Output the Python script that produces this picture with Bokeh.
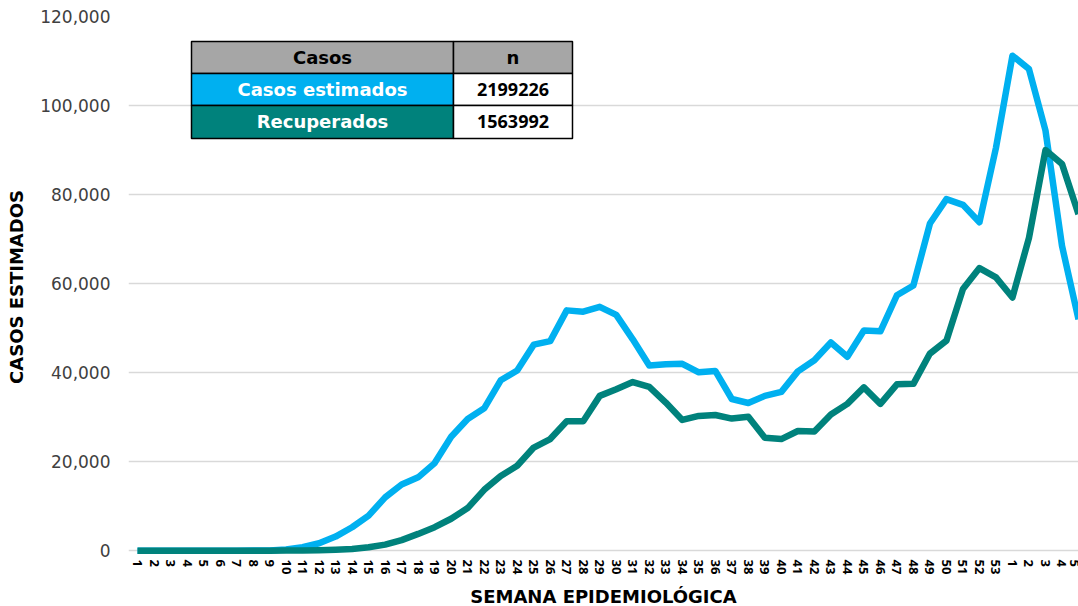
from bokeh.plotting import figure
from bokeh.models import FixedTicker, NumeralTickFormatter, Range1d
from bokeh.core.properties import value
from bokeh.embed import file_html
from bokeh.resources import INLINE

# ---- data ----
weeks = [str(i) for i in range(1, 54)] + ["1", "2", "3", "4", "5"]

casos_estimados = [0, 0, 0, 0, 0, 0, 0, 50, 100, 300,
                   800, 1700, 3200, 5300, 7900, 12000, 14900, 16500, 19700, 25600,
                   29600, 32000, 38300, 40500, 46300, 47100, 54000, 53700, 54800, 53000,
                   47500, 41600, 41900, 42000, 40100, 40400, 34100, 33200, 34800, 35700,
                   40300, 42800, 46800, 43600, 49500, 49300, 57400, 59600, 73500, 79000,
                   77700, 73800, 90500, 111200, 108200, 94400, 68500, 52000]

recuperados = [0, 0, 0, 0, 0, 0, 0, 0, 0, 50,
               100, 150, 250, 400, 800, 1400, 2400, 3800, 5300, 7200,
               9600, 13700, 16800, 19100, 23200, 25100, 29100, 29100, 34800, 36300,
               37900, 36800, 33300, 29400, 30300, 30500, 29700, 30100, 25400, 25100,
               26900, 26800, 30600, 33000, 36700, 33000, 37400, 37500, 44300, 47200,
               58800, 63500, 61400, 56900, 70300, 90000, 86900, 75600]

table_header = ["Casos", "n"]
table_names = ["Casos estimados", "Recuperados"]
table_totals = ["2199226", "1563992"]

BLUE = "#00B0F0"
TEAL = "#00827C"
GRAY = "#A6A6A6"

idx = list(range(len(weeks)))

p = figure(width=1078, height=610, output_backend="svg", toolbar_location=None,
           x_range=Range1d(-0.545, 57.0), y_range=Range1d(-1500, 120000),
           min_border_left=128, min_border_right=0, min_border_top=16,
           min_border_bottom=53)
p.outline_line_color = None
p.background_fill_color = "white"
p.border_fill_color = "white"

p.line(idx, casos_estimados, line_color=BLUE, line_width=6.5, line_join="round")
p.line(idx, recuperados, line_color=TEAL, line_width=6.5, line_join="round")

# axes
p.xaxis.ticker = FixedTicker(ticks=idx)
p.xaxis.major_label_overrides = {i: w for i, w in zip(idx, weeks)}
p.xaxis.major_label_orientation = "vertical"
p.xaxis.major_label_text_font = "Open Sans"
p.xaxis.major_label_text_font_style = "bold"
p.xaxis.major_label_text_font_size = "13px"
p.xaxis.major_label_text_color = "#000000"
p.xaxis.major_label_standoff = 2
p.xaxis.axis_label = "SEMANA EPIDEMIOLÓGICA"
p.xaxis.axis_label_text_font = "DejaVu Sans"
p.xaxis.axis_label_text_font_style = "bold"
p.xaxis.axis_label_text_font_size = "18px"
p.xaxis.axis_label_text_color = "#000000"
p.xaxis.axis_label_standoff = 9

p.yaxis.ticker = FixedTicker(ticks=[0, 20000, 40000, 60000, 80000, 100000, 120000])
p.yaxis.formatter = NumeralTickFormatter(format="0,0")
p.yaxis.major_label_text_font = "DejaVu Sans"
p.yaxis.major_label_text_font_size = "17px"
p.yaxis.major_label_text_color = "#404040"
p.yaxis.major_label_standoff = 18
p.yaxis.axis_label = "CASOS ESTIMADOS"
p.yaxis.axis_label_text_font = "DejaVu Sans"
p.yaxis.axis_label_text_font_style = "bold"
p.yaxis.axis_label_text_font_size = "18px"
p.yaxis.axis_label_text_color = "#000000"
p.yaxis.axis_label_standoff = 10

for ax in (p.xaxis, p.yaxis):
    ax.axis_line_color = None
    ax.major_tick_line_color = None
    ax.minor_tick_line_color = None
    ax.major_tick_out = 0
    ax.minor_tick_out = 0

p.xgrid.grid_line_color = None
p.ygrid.grid_line_color = "#D9D9D9"
p.ygrid.grid_line_width = 1.5

# ---- table (pixel layout converted into data units) ----
def dx(px):
    return (px - 128) / 16.509 - 0.545

def dy(py):
    return 120000 - (py - 16) * 224.58

col_edges = [191, 453, 572]
row_edges = [41, 73, 105, 138]
fills = [(GRAY, "white"), (BLUE, "white"), (TEAL, "white")]
texts = [table_header] + [[n, t] for n, t in zip(table_names, table_totals)]
text_colors = [("#000000", "#000000"), ("white", "#000000"), ("white", "#000000")]

for r in range(3):
    top, bot = dy(row_edges[r]), dy(row_edges[r + 1])
    for c in range(2):
        left, right = dx(col_edges[c]), dx(col_edges[c + 1])
        fill = fills[r][0] if c == 0 else (GRAY if r == 0 else "white")
        p.quad(left=[left], right=[right], top=[top], bottom=[bot],
               fill_color=fill, line_color="#000000", line_width=1.5)
        font = "DejaVu Sans" if (c == 0 or r == 0) else "Open Sans"
        p.text(x=[(left + right) / 2], y=[(top + bot) / 2], text=[texts[r][c]],
               text_font=value(font), text_font_style="bold",
               text_font_size="18px", text_color=text_colors[r][c],
               text_align="center", text_baseline="middle")

open("out.html", "w").write(file_html(p, INLINE))
